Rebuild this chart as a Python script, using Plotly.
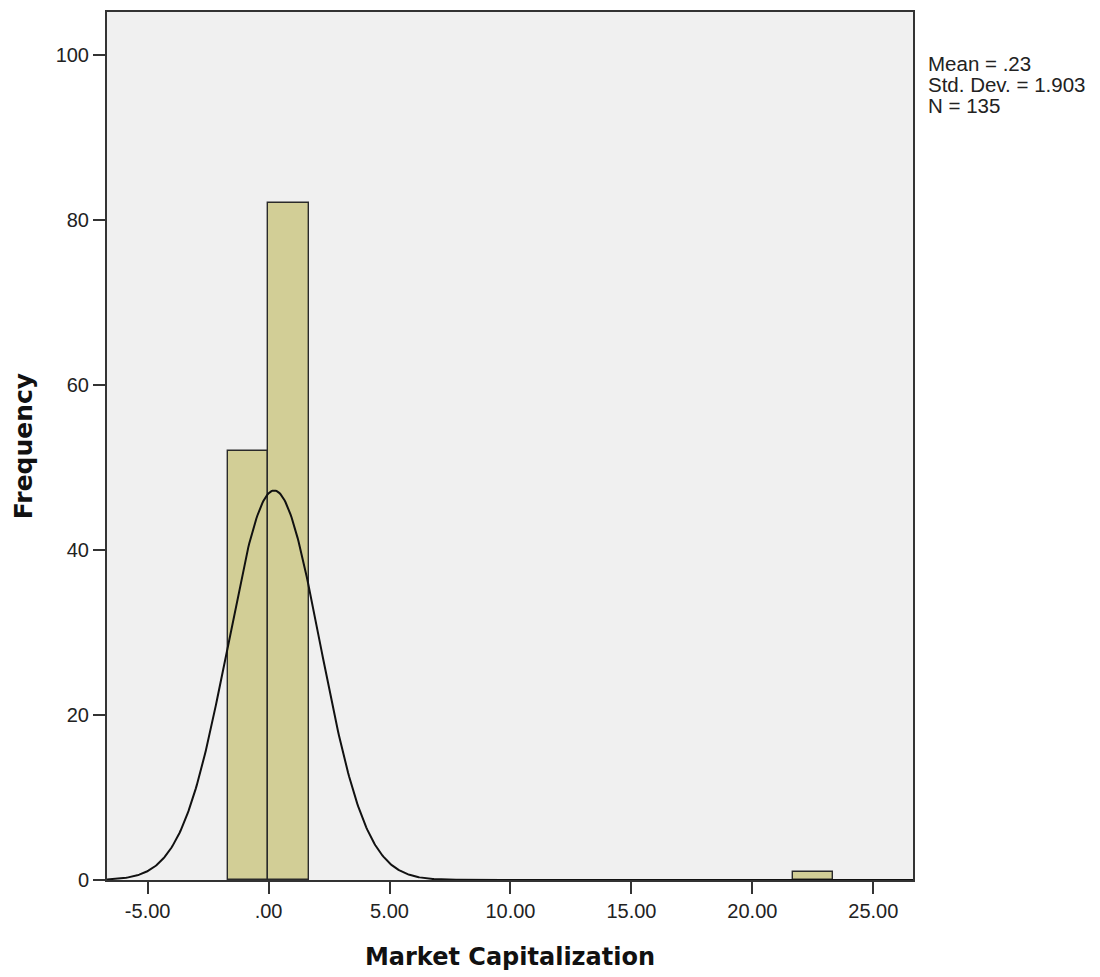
import numpy as np
import plotly.graph_objects as go

# Histogram bins (lower edge, upper edge) and counts
bin_left = [-1.678, -0.010, 21.670]
bin_right = [-0.010, 1.658, 23.338]
counts = [52, 82, 1]

# Summary statistics
mean_val = 0.23
std_val = 1.903
n_obs = 135
bin_width = 1.668

x_ticks = [-5, 0, 5, 10, 15, 20, 25]
x_tick_text = ["-5.00", ".00", "5.00", "10.00", "15.00", "20.00", "25.00"]
y_ticks = [0, 20, 40, 60, 80, 100]

stat_lines = ["Mean = .23", f"Std. Dev. = {std_val:.3f}", f"N = {n_obs}"]

centers = [(a + b) / 2 for a, b in zip(bin_left, bin_right)]
widths = [b - a for a, b in zip(bin_left, bin_right)]

# Normal curve scaled to counts
x_lo, x_hi = -6.68, 26.64
xs = np.linspace(x_lo, x_hi, 800)
ys = n_obs * bin_width / (std_val * np.sqrt(2 * np.pi)) * np.exp(-0.5 * ((xs - mean_val) / std_val) ** 2)

fig = go.Figure()
fig.add_trace(go.Bar(
    x=centers, y=counts, width=widths,
    marker=dict(color="#D2CE96", line=dict(color="#2a2a2a", width=1.4)),
    hoverinfo="y",
))
fig.add_trace(go.Scatter(
    x=xs, y=ys, mode="lines",
    line=dict(color="#111111", width=2),
    hoverinfo="skip",
))

tick_font = dict(family="Liberation Sans, Arial, sans-serif", size=20, color="#222222")
title_font = dict(family="DejaVu Sans, Verdana, sans-serif", size=24, color="#111111")

fig.update_layout(
    width=1100, height=977,
    margin=dict(l=107, r=187, t=10, b=97),
    paper_bgcolor="white",
    plot_bgcolor="#F0F0F0",
    showlegend=False,
    bargap=0,
    font=tick_font,
)
fig.update_xaxes(
    range=[x_lo, x_hi],
    tickvals=x_ticks, ticktext=x_tick_text, tickfont=tick_font,
    ticks="outside", ticklen=12, tickwidth=2, tickcolor="#333333",
    showgrid=False, zeroline=False,
    showline=True, linecolor="#333333", linewidth=2, mirror=True,
    title=dict(text="<b>Market Capitalization</b>", standoff=27, font=title_font),
)
fig.update_yaxes(
    range=[0, 105.2],
    tickvals=y_ticks, tickfont=tick_font,
    ticks="outside", ticklen=12, tickwidth=2, tickcolor="#333333",
    showgrid=False, zeroline=False,
    showline=True, linecolor="#333333", linewidth=2, mirror=True,
    title=dict(text="<b>Frequency</b>", standoff=16,
               font=dict(family="DejaVu Sans, Verdana, sans-serif", size=25, color="#111111")),
)

# Statistics block to the right of the plot, one line per annotation
plot_h = 870.0
for i, line in enumerate(stat_lines):
    py = 62 + 21 * i
    fig.add_annotation(
        xref="paper", yref="paper", x=1.016, y=(880 - py) / plot_h,
        xanchor="left", yanchor="middle", align="left", showarrow=False,
        text=line,
        font=dict(family="Liberation Sans, Arial, sans-serif", size=20.5, color="#222222"),
    )

fig.write_html("out.html")
